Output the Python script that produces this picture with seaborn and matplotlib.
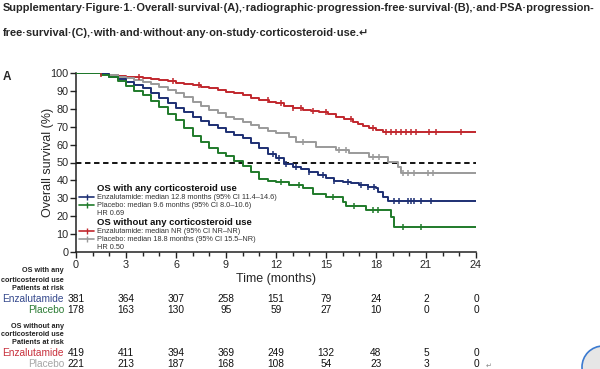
import numpy as np
import pandas as pd
import matplotlib
matplotlib.use('Agg')
import matplotlib.pyplot as plt
import matplotlib.transforms as mtransforms
from matplotlib.lines import Line2D
from matplotlib.patches import Circle
import seaborn as sns

# Kaplan-Meier curves (months, % surviving)
enz_ster_t = [0, 1, 1.5, 2, 2.5, 3, 3.5, 4, 4.5, 5, 5.5, 6, 6.5, 7, 7.5, 8, 8.5, 9, 9.5, 10,
              10.5, 11, 11.5, 12, 12.5, 13, 13.5, 14, 14.5, 15, 15.5, 16, 16.5, 17, 17.5, 18,
              18.1, 18.4, 18.7, 24]
enz_ster_s = [100, 100, 99.2, 98, 96.8, 95.1, 93.5, 91.4, 88.8, 85.8, 83, 80.2, 78, 75.6, 73.2,
              70.9, 69, 67.2, 65.3, 63.5, 60.8, 57.9, 55, 52.3, 49.2, 47.5, 46.2, 44.5, 42.8,
              41.5, 39.8, 39, 38.3, 37.5, 36.5, 36, 33.7, 30.6, 28.6, 28.6]
pbo_ster_t = [0, 1, 1.5, 2, 2.5, 3, 3.5, 4, 4.5, 5, 5.5, 6, 6.5, 7, 7.5, 8, 8.5, 9, 9.5, 10,
              10.5, 11, 11.5, 12, 12.8, 13.6, 14.2, 15, 16, 16.2, 17.4, 18.9, 19.1, 24]
pbo_ster_s = [100, 100, 99, 97.6, 95.5, 93, 90.2, 87.5, 84.5, 81, 77.3, 73.5, 69, 64.8, 61.2,
              58, 55.5, 53.6, 51, 48.2, 44.5, 41, 39.7, 39.3, 37.4, 35.5, 32.4, 30.9, 28.1,
              25.7, 23.5, 19.7, 14.1, 14.1]
enz_nost_t = [0, 1, 1.5, 2, 2.5, 3, 3.5, 4, 4.5, 5, 5.5, 6, 6.5, 7, 7.5, 8, 8.5, 9, 9.5, 10,
              10.5, 11, 11.6, 12, 12.5, 13, 13.6, 14.1, 14.6, 15.1, 15.6, 16.1, 16.6, 16.9,
              17.2, 17.6, 18, 18.4, 24]
enz_nost_s = [100, 100, 99.5, 98.9, 98.5, 98, 97.5, 97, 96.5, 96, 95.3, 94.6, 93.9, 93.1, 92.2,
              91.4, 90.5, 89.6, 88.7, 87.7, 86.3, 84.9, 84, 83, 81.5, 80.5, 79.3, 78.8, 78.4,
              77, 75.6, 74.2, 72.8, 71.6, 70.4, 69.2, 68.1, 67, 67]
pbo_nost_t = [0, 1, 1.5, 2, 2.5, 3, 3.5, 4, 4.5, 5, 5.5, 6, 6.5, 7, 7.5, 8, 8.5, 9, 9.5, 10,
              10.5, 11, 11.5, 12, 12.8, 13.2, 14.4, 15.6, 16.4, 17.6, 18.7, 19.3, 19.5, 24]
pbo_nost_s = [100, 100, 99.5, 98.8, 98, 97, 96.1, 95.1, 93.8, 92.4, 90.6, 88.6, 86.4, 84,
              81.6, 79.3, 77.4, 75.6, 74.2, 72.8, 71, 69.1, 67.7, 66.3, 64.4, 61.6, 58.8, 57,
              55.5, 52.9, 50.5, 47.7, 44, 44]

# censoring times (tick marks)
enz_ster_c = [11.8, 12.2, 12.6, 13.2, 14, 14.8, 15.5, 16.3, 17.1, 17.5, 17.9, 19.1, 19.4,
              19.9, 20.1, 20.3, 20.7, 21.3]
pbo_ster_c = [12.3, 13.4, 15.4, 16.7, 17.8, 18.1, 19.6, 20.7]
enz_nost_c = [1.5, 3.8, 5.8, 7.4, 11.5, 12.3, 13, 13.5, 14.2, 15, 16.5, 17.8, 18.6, 18.9,
              19.2, 19.5, 19.8, 20.1, 20.4, 21.2, 21.6, 23.1]
pbo_nost_c = [13.6, 15.8, 16.2, 17.8, 18.2, 19.6, 19.9, 20.3, 21.1, 21.4]

# patients at risk
risk_times = [0, 3, 6, 9, 12, 15, 18, 21, 24]
risk_enz_ster = [381, 364, 307, 258, 151, 79, 24, 2, 0]
risk_pbo_ster = [178, 163, 130, 95, 59, 27, 10, 0, 0]
risk_enz_nost = [419, 411, 394, 369, 249, 132, 48, 5, 0]
risk_pbo_nost = [221, 213, 187, 168, 108, 54, 23, 3, 0]

legend_labels = [
    'OS with any corticosteroid use',
    'Enzalutamide: median 12.8 months (95% CI 11.4\u201314.6)',
    'Placebo: median 9.6 months (95% CI 8.0\u201310.6)',
    'HR 0.69',
    'OS without any corticosteroid use',
    'Enzalutamide: median NR (95% CI NR\u2013NR)',
    'Placebo: median 18.8 months (95% CI 15.5\u2013NR)',
    'HR 0.50',
]

BLUE, GREEN, RED, GREY = '#1d2f73', '#1f7a2a', '#c1272d', '#9a9a9a'

sns.set_theme(style='ticks')
plt.rcParams['font.family'] = ['Liberation Sans', 'DejaVu Sans']

curves = [
    ('enz_nost', enz_nost_t, enz_nost_s, enz_nost_c, RED),
    ('pbo_nost', pbo_nost_t, pbo_nost_s, pbo_nost_c, GREY),
    ('enz_ster', enz_ster_t, enz_ster_s, enz_ster_c, BLUE),
    ('pbo_ster', pbo_ster_t, pbo_ster_s, pbo_ster_c, GREEN),
]
df = pd.concat([pd.DataFrame({'time': t, 'surv': s, 'arm': name}) for name, t, s, c, col in curves])
palette = {name: col for name, t, s, c, col in curves}

fig = plt.figure(figsize=(6, 3.69), dpi=100)
ax = fig.add_axes([76 / 600, 1 - 252 / 369, 400 / 600, 179 / 369])

ax.axhline(50, color='black', lw=1.3, ls=(0, (3, 2)), zorder=1)
sns.lineplot(data=df, x='time', y='surv', hue='arm', palette=palette, drawstyle='steps-post',
             estimator=None, sort=False, legend=False, lw=1.4, ax=ax, zorder=3)

for name, t, s, c, col in curves:
    idx = np.searchsorted(t, c, side='right') - 1
    cy = np.array(s)[idx]
    ax.plot(c, cy, ls='none', marker='|', ms=4, mew=1.1, color=col, zorder=4)

ax.set_xlim(0, 24)
ax.set_ylim(0, 100)
ax.set_xticks(risk_times)
ax.set_xticks(range(0, 25), minor=True)
ax.set_yticks(range(0, 101, 10))
ax.tick_params(axis='both', which='major', length=4, width=1, labelsize=7.8, pad=1.5, color='#222222')
ax.tick_params(axis='x', which='minor', length=3, width=1, color='#222222')
for sp in ['top', 'right']:
    ax.spines[sp].set_visible(False)
for sp in ['left', 'bottom']:
    ax.spines[sp].set_color('#222222')
    ax.spines[sp].set_linewidth(1.1)
ax.set_xlabel('')
ax.set_ylabel('')

# legend inside the axes
blank = Line2D([], [], color='none')
handles = [blank,
           Line2D([], [], color=BLUE, marker='|', ms=4, lw=1.2),
           Line2D([], [], color=GREEN, marker='|', ms=4, lw=1.2),
           blank, blank,
           Line2D([], [], color=RED, marker='|', ms=4, lw=1.2),
           Line2D([], [], color=GREY, marker='|', ms=4, lw=1.2),
           blank]
leg = ax.legend(handles, legend_labels, loc='lower left', bbox_to_anchor=(0.005, -0.005),
                frameon=False, fontsize=5.3, handlelength=2.0, handletextpad=0.35,
                labelspacing=0.12, borderaxespad=0.0, borderpad=0.2)
for i, txt in enumerate(leg.get_texts()):
    if i in (0, 4):
        txt.set_fontweight('bold')
        txt.set_fontsize(6.8)
        txt.set_color('#111111')
    else:
        txt.set_color('#333333')

# axis titles
fig.text(48 / 600, 1 - 162 / 369, 'Overall survival (%)', rotation=90, fontsize=9,
         ha='center', va='center')
fig.text(276 / 600, 1 - 279 / 369, 'Time (months)', fontsize=9, ha='center', va='center')
fig.text(3 / 600, 1 - 77 / 369, 'A', fontsize=8.5, fontweight='bold', ha='left', va='center')

# caption
fig.text(3 / 600, 1 - 8 / 369,
         'Supplementary\u00b7Figure\u00b71.\u00b7Overall\u00b7survival\u00b7(A),\u00b7radiographic\u00b7'
         'progression-free\u00b7survival\u00b7(B),\u00b7and\u00b7PSA\u00b7progression-',
         fontsize=7.95, fontweight='bold', ha='left', va='center')
fig.text(3 / 600, 1 - 33 / 369,
         'free\u00b7survival\u00b7(C),\u00b7with\u00b7and\u00b7without\u00b7any\u00b7on-study\u00b7'
         'corticosteroid\u00b7use.\u21b5',
         fontsize=7.95, fontweight='bold', ha='left', va='center')

# number at risk table
trans = mtransforms.blended_transform_factory(ax.transData, fig.transFigure)
rows = [(299, 'Enzalutamide', '#34488c', risk_enz_ster),
        (310, 'Placebo', '#2e7d36', risk_pbo_ster),
        (353, 'Enzalutamide', '#c8303c', risk_enz_nost),
        (364, 'Placebo', '#a6a6a6', risk_pbo_nost)]
for ypx, name, col, vals in rows:
    fig.text(64 / 600, 1 - ypx / 369, name, fontsize=7.3, color=col, ha='right', va='center')
    for t, v in zip(risk_times, vals):
        ax.text(t, 1 - ypx / 369, str(v), transform=trans, fontsize=7.3, ha='center',
                va='center', color='#111111', clip_on=False)

for ypx, line in [(271, 'OS with any'), (281, 'corticosteroid use'), (289, 'Patients at risk'),
                  (326, 'OS without any'), (335, 'corticosteroid use'), (343, 'Patients at risk')]:
    fig.text(64 / 600, 1 - ypx / 369, line, fontsize=5.2, fontweight='bold', color='#222222',
             ha='right', va='center')

fig.text(486 / 600, 1 - 366 / 369, '\u21b5', fontsize=5, color='#888888', ha='left', va='center')

# screen artefact in the corner
fig.patches.append(Circle((6.03, 0.02), 0.21, transform=fig.dpi_scale_trans,
                          facecolor='#e6e6e6', edgecolor='#3b7ad0', lw=1.2))

fig.savefig('out.png', dpi=100)
